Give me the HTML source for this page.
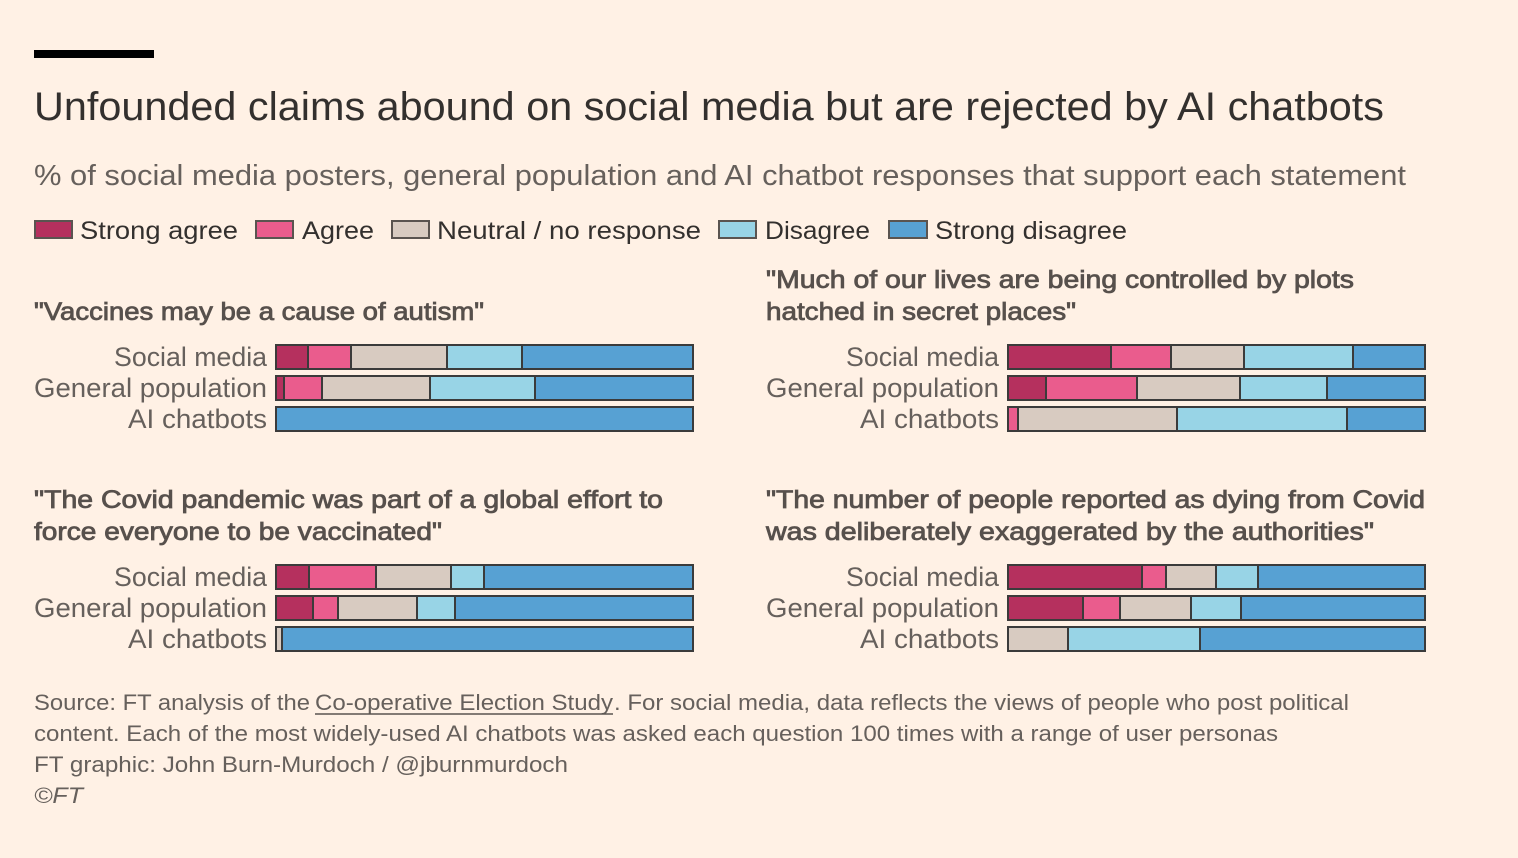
<!DOCTYPE html>
<html>
<head>
<meta charset="utf-8">
<style>
  html,body{margin:0;padding:0;background:#fff1e5;}
  svg{display:block;}
  text{font-family:"Liberation Sans",sans-serif;}
</style>
</head>
<body>
<svg width="1518" height="858" viewBox="0 0 1518 858" xmlns="http://www.w3.org/2000/svg">
  <rect x="0" y="0" width="1518" height="858" fill="#fff1e5"/>
  <rect x="34" y="50" width="120" height="8" fill="#000"/>

  <text x="34" y="120" font-size="40" fill="#33302e" textLength="1350" lengthAdjust="spacingAndGlyphs">Unfounded claims abound on social media but are rejected by AI chatbots</text>
  <text x="34" y="185" font-size="29" fill="#66605c" textLength="1372" lengthAdjust="spacingAndGlyphs">% of social media posters, general population and AI chatbot responses that support each statement</text>

  <!-- Legend -->
  <g stroke="#5a5450" stroke-width="2">
    <rect x="35" y="221" width="37" height="17" fill="#b5305e"/>
    <rect x="256" y="221" width="37" height="17" fill="#ea5c8d"/>
    <rect x="392" y="221" width="37" height="17" fill="#d8cbc1"/>
    <rect x="719" y="221" width="37" height="17" fill="#98d4e6"/>
    <rect x="889" y="221" width="38" height="17" fill="#57a1d3"/>
  </g>
  <g font-size="25" fill="#33302e">
    <text x="80" y="239" textLength="158" lengthAdjust="spacingAndGlyphs">Strong agree</text>
    <text x="302" y="239" textLength="72" lengthAdjust="spacingAndGlyphs">Agree</text>
    <text x="437" y="239" textLength="264" lengthAdjust="spacingAndGlyphs">Neutral / no response</text>
    <text x="765" y="239" textLength="105" lengthAdjust="spacingAndGlyphs">Disagree</text>
    <text x="935" y="239" textLength="192" lengthAdjust="spacingAndGlyphs">Strong disagree</text>
  </g>

  <!-- Question titles -->
  <g font-size="25" fill="#57504c" stroke="#57504c" stroke-width="0.8">
    <text x="34" y="320" textLength="450" lengthAdjust="spacingAndGlyphs">"Vaccines may be a cause of autism"</text>
    <text x="766" y="288" textLength="588" lengthAdjust="spacingAndGlyphs">"Much of our lives are being controlled by plots</text>
    <text x="766" y="320" textLength="310" lengthAdjust="spacingAndGlyphs">hatched in secret places"</text>
    <text x="34" y="508" textLength="629" lengthAdjust="spacingAndGlyphs">"The Covid pandemic was part of a global effort to</text>
    <text x="34" y="540" textLength="408" lengthAdjust="spacingAndGlyphs">force everyone to be vaccinated"</text>
    <text x="766" y="508" textLength="659" lengthAdjust="spacingAndGlyphs">"The number of people reported as dying from Covid</text>
    <text x="766" y="540" textLength="608" lengthAdjust="spacingAndGlyphs">was deliberately exaggerated by the authorities"</text>
  </g>

  <!-- Row labels -->
  <g font-size="27" fill="#66605c">
    <text x="114" y="366" textLength="153" lengthAdjust="spacingAndGlyphs">Social media</text>
    <text x="34" y="397" textLength="233" lengthAdjust="spacingAndGlyphs">General population</text>
    <text x="128" y="428" textLength="139" lengthAdjust="spacingAndGlyphs">AI chatbots</text>
    <text x="846" y="366" textLength="153" lengthAdjust="spacingAndGlyphs">Social media</text>
    <text x="766" y="397" textLength="233" lengthAdjust="spacingAndGlyphs">General population</text>
    <text x="860" y="428" textLength="139" lengthAdjust="spacingAndGlyphs">AI chatbots</text>
    <text x="114" y="586" textLength="153" lengthAdjust="spacingAndGlyphs">Social media</text>
    <text x="34" y="617" textLength="233" lengthAdjust="spacingAndGlyphs">General population</text>
    <text x="128" y="648" textLength="139" lengthAdjust="spacingAndGlyphs">AI chatbots</text>
    <text x="846" y="586" textLength="153" lengthAdjust="spacingAndGlyphs">Social media</text>
    <text x="766" y="617" textLength="233" lengthAdjust="spacingAndGlyphs">General population</text>
    <text x="860" y="648" textLength="139" lengthAdjust="spacingAndGlyphs">AI chatbots</text>
  </g>

  <!-- Bars -->
  <g stroke="#3b3b3b" stroke-width="2">
    <!-- Vaccines / autism -->
    <rect x="276" y="345" width="32" height="24" fill="#b5305e"/>
    <rect x="308" y="345" width="43" height="24" fill="#ea5c8d"/>
    <rect x="351" y="345" width="96" height="24" fill="#d8cbc1"/>
    <rect x="447" y="345" width="75" height="24" fill="#98d4e6"/>
    <rect x="522" y="345" width="171" height="24" fill="#57a1d3"/>

    <rect x="276" y="376" width="8" height="24" fill="#b5305e"/>
    <rect x="284" y="376" width="38" height="24" fill="#ea5c8d"/>
    <rect x="322" y="376" width="108" height="24" fill="#d8cbc1"/>
    <rect x="430" y="376" width="105" height="24" fill="#98d4e6"/>
    <rect x="535" y="376" width="158" height="24" fill="#57a1d3"/>

    <rect x="276" y="407" width="417" height="24" fill="#57a1d3"/>

    <!-- Plots -->
    <rect x="1008" y="345" width="103" height="24" fill="#b5305e"/>
    <rect x="1111" y="345" width="60" height="24" fill="#ea5c8d"/>
    <rect x="1171" y="345" width="73" height="24" fill="#d8cbc1"/>
    <rect x="1244" y="345" width="109" height="24" fill="#98d4e6"/>
    <rect x="1353" y="345" width="72" height="24" fill="#57a1d3"/>

    <rect x="1008" y="376" width="38" height="24" fill="#b5305e"/>
    <rect x="1046" y="376" width="91" height="24" fill="#ea5c8d"/>
    <rect x="1137" y="376" width="103" height="24" fill="#d8cbc1"/>
    <rect x="1240" y="376" width="87" height="24" fill="#98d4e6"/>
    <rect x="1327" y="376" width="98" height="24" fill="#57a1d3"/>

    <rect x="1008" y="407" width="10" height="24" fill="#ea5c8d"/>
    <rect x="1018" y="407" width="159" height="24" fill="#d8cbc1"/>
    <rect x="1177" y="407" width="170" height="24" fill="#98d4e6"/>
    <rect x="1347" y="407" width="78" height="24" fill="#57a1d3"/>

    <!-- Covid vaccinated -->
    <rect x="276" y="565" width="33" height="24" fill="#b5305e"/>
    <rect x="309" y="565" width="67" height="24" fill="#ea5c8d"/>
    <rect x="376" y="565" width="75" height="24" fill="#d8cbc1"/>
    <rect x="451" y="565" width="33" height="24" fill="#98d4e6"/>
    <rect x="484" y="565" width="209" height="24" fill="#57a1d3"/>

    <rect x="276" y="596" width="37" height="24" fill="#b5305e"/>
    <rect x="313" y="596" width="25" height="24" fill="#ea5c8d"/>
    <rect x="338" y="596" width="79" height="24" fill="#d8cbc1"/>
    <rect x="417" y="596" width="38" height="24" fill="#98d4e6"/>
    <rect x="455" y="596" width="238" height="24" fill="#57a1d3"/>

    <rect x="276" y="627" width="6" height="24" fill="#d8cbc1"/>
    <rect x="282" y="627" width="411" height="24" fill="#57a1d3"/>

    <!-- Covid deaths -->
    <rect x="1008" y="565" width="134" height="24" fill="#b5305e"/>
    <rect x="1142" y="565" width="24" height="24" fill="#ea5c8d"/>
    <rect x="1166" y="565" width="50" height="24" fill="#d8cbc1"/>
    <rect x="1216" y="565" width="42" height="24" fill="#98d4e6"/>
    <rect x="1258" y="565" width="167" height="24" fill="#57a1d3"/>

    <rect x="1008" y="596" width="75" height="24" fill="#b5305e"/>
    <rect x="1083" y="596" width="37" height="24" fill="#ea5c8d"/>
    <rect x="1120" y="596" width="71" height="24" fill="#d8cbc1"/>
    <rect x="1191" y="596" width="50" height="24" fill="#98d4e6"/>
    <rect x="1241" y="596" width="184" height="24" fill="#57a1d3"/>

    <rect x="1008" y="627" width="60" height="24" fill="#d8cbc1"/>
    <rect x="1068" y="627" width="132" height="24" fill="#98d4e6"/>
    <rect x="1200" y="627" width="225" height="24" fill="#57a1d3"/>
  </g>

  <!-- Footer -->
  <g font-size="22" fill="#66605c">
    <text x="34" y="710" textLength="276" lengthAdjust="spacingAndGlyphs">Source: FT analysis of the</text>
    <text x="315" y="710" textLength="298" lengthAdjust="spacingAndGlyphs">Co-operative Election Study</text>
    <text x="614" y="710" textLength="735" lengthAdjust="spacingAndGlyphs">. For social media, data reflects the views of people who post political</text>
    <text x="34" y="741" textLength="1244" lengthAdjust="spacingAndGlyphs">content. Each of the most widely-used AI chatbots was asked each question 100 times with a range of user personas</text>
    <text x="34" y="772" textLength="534" lengthAdjust="spacingAndGlyphs">FT graphic: John Burn-Murdoch / @jburnmurdoch</text>
    <text x="34" y="803" font-style="italic" textLength="49" lengthAdjust="spacingAndGlyphs">©FT</text>
  </g>
  <line x1="315" y1="714" x2="613" y2="714" stroke="#5a5450" stroke-width="1.5"/>
</svg>
</body>
</html>
